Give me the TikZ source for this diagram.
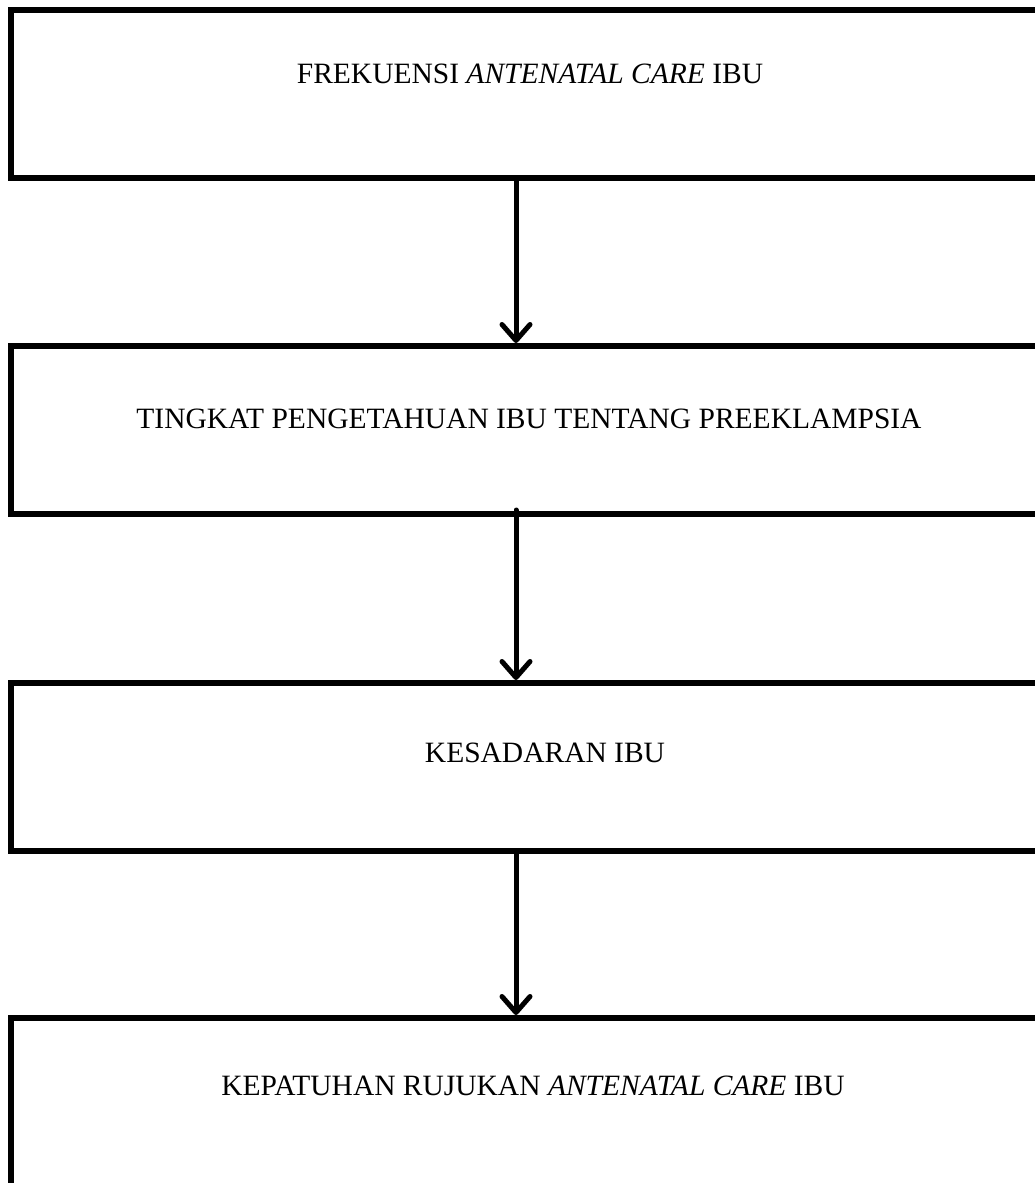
\documentclass[tikz,border=0pt]{standalone}
\usepackage{fontspec}
\setmainfont{Liberation Serif}
\usetikzlibrary{arrows.meta}
\begin{document}
\begin{tikzpicture}[x=1pt,y=-1pt,
  boxnode/.style={draw, line width=5.5pt, minimum width=1060pt, minimum height=168pt,
    anchor=north west, inner sep=0pt, outer sep=0pt},
  lbl/.style={font=\fontsize{29.5}{34}\selectfont, anchor=base, inner sep=0pt},
  flow/.style={line width=5pt, line cap=round,
    -{Straight Barb[length=16pt,width=28pt,line cap=round,line join=round]}}]
\useasboundingbox (0,0) rectangle (1035,1183);
\clip (0,0) rectangle (1035,1183);
\fill[white] (0,0) rectangle (1035,1183);
\node[boxnode] (a) at (11,10) {};
\node[boxnode] (b) at (11,346) {};
\node[boxnode] (c) at (11,683) {};
\node[boxnode] (d) at (11,1018) {};
\node[lbl] (ta) at (530,83) {FREKUENSI \textit{ANTENATAL CARE} IBU};
\node[lbl] (tb) at (529,428) {TINGKAT PENGETAHUAN IBU TENTANG PREEKLAMPSIA};
\node[lbl] (tc) at (545,762) {KESADARAN IBU};
\node[lbl] (td) at (533,1095) {KEPATUHAN RUJUKAN \textit{ANTENATAL CARE} IBU};
\coordinate (a1) at (516,178);
\coordinate (b1) at (516,343);
\coordinate (b2) at (516,510);
\coordinate (c1) at (516,680);
\coordinate (c2) at (516,851);
\coordinate (d1) at (516,1015);
\draw[flow] (a1) -- (b1);
\draw[flow] (b2) -- (c1);
\draw[flow] (c2) -- (d1);
\end{tikzpicture}
\end{document}
